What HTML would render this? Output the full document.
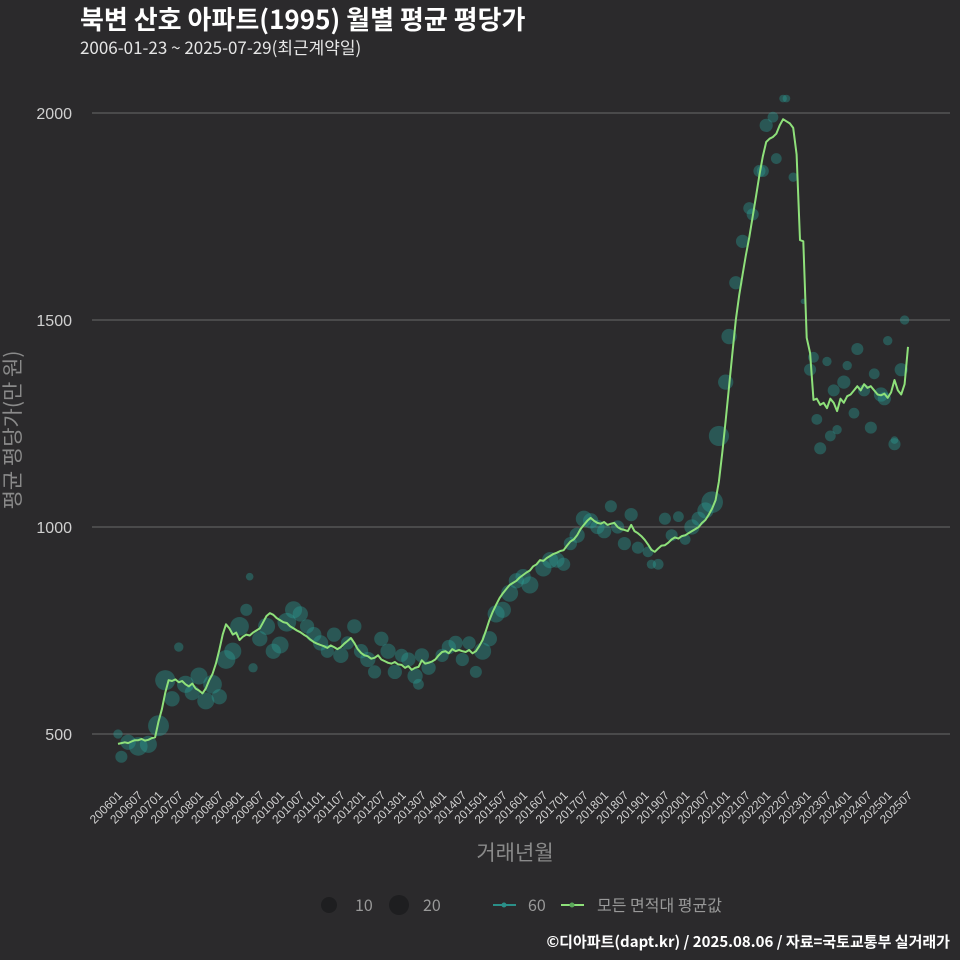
<!DOCTYPE html>
<html><head><meta charset="utf-8"><style>
body{margin:0;background:#2b2a2c;}
svg{display:block;font-family:"Liberation Sans","Noto Sans CJK KR",sans-serif;}
.kr{font-family:"Noto Sans CJK KR","Liberation Sans",sans-serif;}
</style></head><body>
<svg id="chart" width="960" height="960" viewBox="0 0 960 960">
<rect width="960" height="960" fill="#2b2a2c"/>
<text class="kr" x="80" y="29" fill="#ffffff" font-size="26" font-weight="bold">북변 산호 아파트(1995) 월별 평균 평당가</text>
<text class="kr" x="80" y="54" fill="#e6e6e6" font-size="17">2006-01-23 ~ 2025-07-29(최근계약일)</text>
<g id="grid"></g>
<g id="bubbles"></g>
<g id="lines"></g>
<g id="xticks"></g>
<text class="kr" x="515" y="860" fill="#8a8a8a" font-size="21" text-anchor="middle">거래년월</text>
<text class="kr" transform="translate(20,430) rotate(-90)" fill="#8a8a8a" font-size="21" text-anchor="middle">평균 평당가(만 원)</text>
<g class="kr">
<circle cx="329" cy="905" r="8" fill="#1e1e20"/>
<text x="355" y="911" fill="#999" font-size="16">10</text>
<circle cx="399" cy="905" r="10" fill="#1e1e20"/>
<text x="423" y="911" fill="#999" font-size="16">20</text>
<line x1="493" y1="905" x2="516" y2="905" stroke="#2a8f88" stroke-width="2"/>
<circle cx="504" cy="905" r="2.5" fill="#2a8f88"/>
<text x="528" y="911" fill="#999" font-size="16">60</text>
<line x1="561" y1="905" x2="584" y2="905" stroke="#8ee07a" stroke-width="2"/>
<circle cx="572" cy="905" r="2.5" fill="#5aa85a"/>
<text x="597" y="911" fill="#999" font-size="16">모든 면적대 평균값</text>
</g>
<text class="kr" x="950" y="947" fill="#ffffff" font-size="15" font-weight="bold" text-anchor="end">©디아파트(dapt.kr) / 2025.08.06 / 자료=국토교통부 실거래가</text>
</svg>
<script>
const yTicks=[500,1000,1500,2000];
const lineValues=[
476,478,480,478,482,485,485,488,484,486,490,492,
530,560,600,630,628,632,625,628,620,615,622,610,
605,598,610,630,645,670,703,740,765,755,740,745,
727,735,740,738,745,750,755,770,785,792,788,780,
775,770,768,760,755,750,746,740,735,728,722,718,
715,712,708,714,710,705,710,718,725,732,720,705,
696,690,688,682,684,690,680,676,672,670,674,668,
667,660,664,655,660,662,678,670,672,675,680,690,
698,700,695,705,700,703,700,698,703,695,700,712,
727,750,775,795,812,828,840,850,860,865,870,878,
884,890,895,905,910,920,918,925,930,935,938,942,
944,955,965,970,980,995,1005,1015,1022,1015,1010,1008,
1012,1005,1008,1010,1000,995,993,990,1005,990,985,978,
969,958,945,940,948,955,956,962,970,975,972,978,
980,985,990,995,1000,1010,1017,1030,1045,1065,1110,1180,
1258,1340,1420,1500,1560,1610,1657,1700,1750,1800,1850,1895,
1930,1938,1942,1950,1970,1985,1980,1975,1964,1900,1693,1690,
1457,1420,1307,1310,1295,1300,1287,1310,1300,1280,1310,1300,
1316,1320,1330,1340,1330,1345,1336,1340,1330,1320,1318,1322,
1312,1325,1355,1330,1320,1345,1435];
const bubbleMonth=[0,1,3,6,9,12,14,16,18,20,22,24,26,28,30,32,34,36,38,39,40,42,44,46,48,50,52,54,56,58,60,62,64,66,68,70,72,74,76,78,80,82,84,86,88,89,90,92,96,98,100,102,104,106,108,110,112,114,116,118,120,122,126,128,130,132,134,136,138,140,142,144,146,148,150,152,154,157,158,160,162,164,166,168,170,172,174,176,178,180,181,183,185,187,188,190,191,192,194,195,197,198,200,203,205,206,207,208,210,211,212,213,215,216,218,219,221,223,224,226,227,228,230,230,232,233];
const bubbleValue=[500,445,480,470,475,520,630,585,710,620,600,640,580,620,590,680,700,760,800,880,660,730,760,700,715,770,800,790,760,740,720,700,740,690,720,760,700,680,650,730,700,650,690,680,640,620,690,660,690,710,720,680,720,650,700,730,790,800,840,870,880,860,900,920,920,910,960,980,1020,1015,1000,990,1050,1000,960,1030,950,940,910,910,1020,980,1025,970,1000,1020,1040,1060,1220,1350,1460,1590,1690,1770,1755,1860,1860,1970,1990,1890,2035,2035,1845,1545,1380,1410,1260,1190,1400,1220,1330,1235,1350,1390,1275,1430,1330,1240,1370,1320,1310,1450,1210,1200,1380,1500];
const bubbleCount=[3,5,8,12,10,15,14,8,3,10,8,10,10,12,8,12,10,12,5,2,3,8,10,8,10,12,10,8,7,8,8,6,7,8,6,7,7,8,6,7,8,7,6,7,8,4,7,7,6,7,7,6,6,5,10,8,10,9,10,8,8,10,9,9,8,6,6,8,9,8,7,7,5,6,6,6,5,4,3,4,5,5,4,4,8,7,9,16,14,8,8,6,6,5,5,5,5,6,4,4,2,2,3,1,5,4,4,5,3,4,5,3,6,3,4,5,5,5,4,7,6,3,2,5,6,3];
const tickLabels=[];
for(let y=2006;y<=2025;y++){for(const m of ['01','07']){tickLabels.push(y+m);}}

const NS='http://www.w3.org/2000/svg';
const x0=118,pxPerMonth=3.376;
function xScale(m){return x0+m*pxPerMonth;}
function yScale(v){return 734-(v-500)*207/500;}
function mk(tag,attrs,parent){const e=document.createElementNS(NS,tag);for(const k in attrs)e.setAttribute(k,attrs[k]);parent.appendChild(e);return e;}

const grid=document.getElementById('grid');
yTicks.forEach(v=>{
  const l=mk('line',{x1:92,x2:950,y1:yScale(v),y2:yScale(v),stroke:'#6a6a6a','stroke-width':1},grid);
  
  
  const t=mk('text',{x:72,y:yScale(v)+6,fill:'#d0d0d0','font-size':16,'text-anchor':'end'},grid);
  t.textContent=v;
  
  
});

const bg=document.getElementById('bubbles');
bubbleMonth.forEach((m,i)=>{
  const c=mk('circle',{cx:xScale(m),cy:yScale(bubbleValue[i]),r:2.7*Math.sqrt(bubbleCount[i]),fill:'#2aa198','fill-opacity':0.38},bg);
  
  
});

const lg=document.getElementById('lines');
const pts=lineValues.map((v,i)=>xScale(i).toFixed(1)+','+yScale(v).toFixed(1)).join(' ');
const pl=mk('polyline',{points:pts,fill:'none',stroke:'#8ee07a','stroke-width':2,'stroke-linejoin':'round'},lg);



const xt=document.getElementById('xticks');
tickLabels.forEach((lab,i)=>{
  const x=xScale(i*6);
  const t=mk('text',{transform:'translate('+(x+5)+',796) rotate(-45)',fill:'#cfcfcf','font-size':12,'text-anchor':'end'},xt);
  t.textContent=lab;
  
  
});
</script>
</body></html>
